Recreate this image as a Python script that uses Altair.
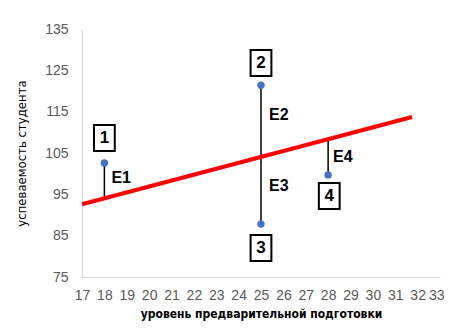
import altair as alt
import pandas as pd

# data points
pt_x = [18, 25, 25, 28]
pt_y = [102.6, 121.4, 87.8, 99.7]

# fitted (drawn) line endpoints
line_x = [17, 31.75]
line_y = [92.6, 113.7]

# residual segments (point -> line)
res_x = [18, 25, 25, 28]
res_y1 = [102.6, 121.4, 87.8, 99.7]
res_y2 = [94.0, 104.3, 104.3, 108.3]

# boxed number labels
box_lbl = ["1", "2", "3", "4"]
box_x = [18, 25, 25, 28.05]
box_y = [108.6, 126.8, 82.0, 94.6]

# residual labels
e_lbl = ["E1", "E2", "E3", "E4"]
e_x = [18.75, 25.8, 25.8, 28.66]
e_y = [99.0, 114.2, 97.0, 104.0]

x_ticks = list(range(17, 34))
y_ticks = [75, 85, 95, 105, 115, 125, 135]

xs = alt.Scale(domain=[17, 33], nice=False, zero=False)
ys = alt.Scale(domain=[75, 135], nice=False, zero=False)

pts = pd.DataFrame({"x": pt_x, "y": pt_y})
ln = pd.DataFrame({"x": line_x, "y": line_y})
res = pd.DataFrame({"x": res_x, "y": res_y1, "y2": res_y2})
boxes = pd.DataFrame({"x": box_x, "y": box_y, "t": box_lbl})
elab = pd.DataFrame({"x": e_x, "y": e_y, "t": e_lbl})

X = alt.X("x:Q", scale=xs,
          axis=alt.Axis(values=x_ticks, title="уровень предварительной подготовки",
                        labelAlign={"condition": {"test": "datum.value == 33", "value": "right"},
                                    "value": "center"},
                        labelOffset={"condition": {"test": "datum.value == 33", "value": 4},
                                     "value": 0}))
Y = alt.Y("y:Q", scale=ys,
          axis=alt.Axis(values=y_ticks, title="успеваемость студента"))

rules = alt.Chart(res).mark_rule(color="black", strokeWidth=1.5).encode(
    x=X, y=Y, y2="y2:Q")

line = alt.Chart(ln).mark_line(color="#ff0000", strokeWidth=4).encode(x=X, y=Y)

points = alt.Chart(pts).mark_point(filled=True, color="#4472c4", size=55, opacity=1).encode(x=X, y=Y)

box_shape = "M-0.8,-1L0.8,-1L0.8,1L-0.8,1Z"
box_marks = alt.Chart(boxes).mark_point(
    shape=box_shape, size=676, filled=False, fill="white", fillOpacity=1,
    stroke="black", strokeWidth=2, opacity=1
).encode(x=X, y=Y)

box_text = alt.Chart(boxes).mark_text(
    font="Liberation Sans", fontWeight="bold", fontSize=17, color="black",
    align="center", baseline="middle"
).encode(x=X, y=Y, text="t:N")

e_text = alt.Chart(elab).mark_text(
    font="Liberation Sans", fontWeight="bold", fontSize=16, color="black",
    align="center", baseline="middle"
).encode(x=X, y=Y, text="t:N")

chart = alt.layer(rules, line, points, box_marks, box_text, e_text).properties(
    width=358, height=248,
    autosize=alt.AutoSizeParams(type="none"),
    padding={"left": 74, "top": 21, "right": 4, "bottom": 44},
).configure_view(stroke=None).configure_axis(
    grid=False, ticks=False, domainColor="#d9d9d9", domainWidth=1,
    labelColor="#595959", labelFont="Liberation Sans", labelFontSize=14,
    titleFont="DejaVu Sans Condensed", titleColor="black",
).configure_axisX(
    labelPadding=11, titleFontSize=12, titleFontWeight="bold", titlePadding=6,
    labelFlush=False,
).configure_axisY(
    labelPadding=14, titleFontSize=13, titleFontWeight="normal", titlePadding=16,
)

chart.save("out.html", embed_options={"renderer": "svg", "actions": False})
